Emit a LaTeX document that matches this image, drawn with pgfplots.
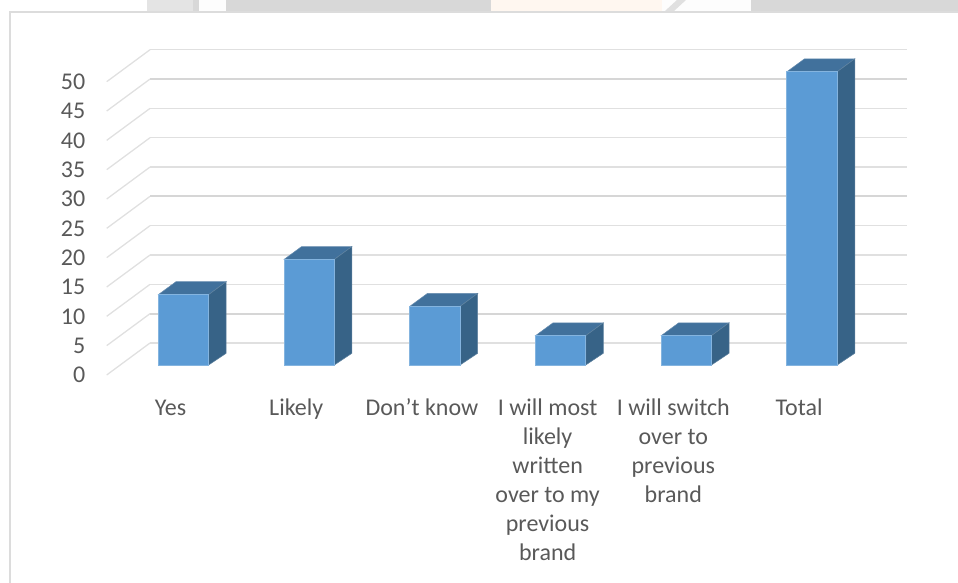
\documentclass[border=0pt]{standalone}
\usepackage{pgfplots}
\pgfplotsset{compat=1.18}
\usepackage{fontspec}
\setmainfont{Carlito}
\definecolor{labelgray}{HTML}{595959}
\definecolor{wall}{HTML}{E0E0E0}
\definecolor{wallthick}{HTML}{D6D6D6}
\definecolor{barfront}{HTML}{5B9BD5}
\definecolor{bartop}{HTML}{41719C}
\definecolor{barside}{HTML}{376387}
\definecolor{framegray}{HTML}{DCDCDC}
\definecolor{bandgray}{HTML}{D8D8D8}

\begin{document}
\begin{tikzpicture}
\useasboundingbox (0,0) rectangle (958pt,583pt);
% scrap of the page above the chart frame
\fill[bandgray] (147pt,572pt) rectangle (958pt,583pt);
\fill[bandgray!70!white] (147pt,572pt) rectangle (193pt,583pt);
\fill[white!96!bandgray] (199pt,572pt) rectangle (226pt,583pt);
\fill[orange!6!white] (491pt,572pt) rectangle (662pt,583pt);
\fill[white!96!bandgray] (662pt,572pt) rectangle (751pt,583pt);
\fill[bandgray!80!white] (665pt,572pt) -- (674pt,572pt) -- (686pt,583pt) -- (677pt,583pt) -- cycle;
\draw[framegray,line width=1.6pt] (958pt,571.2pt) -- (9.8pt,571.2pt) -- (9.8pt,0pt);

\begin{axis}[
    at={(106.7pt,218pt)}, anchor=south west,
    scale only axis, width=800pt, height=322.6pt,
    clip=false,
    xmin=-0.611, xmax=5.753,
    ymin=0, ymax=55,
    axis line style={draw=none},
    tick style={draw=none},
    xtick={0,1,2,3,4,5},
    xticklabels={Yes\strut,Likely\strut,Don’t know\strut,{I will most\strut\\likely\\written\\over to my\\previous\\brand},{I will switch\strut\\over to\\previous\\brand},Total\strut},
    ytick={0,5,...,50},
    /pgf/number format/assume math mode=true,
    tick label style={font=\fontsize{24}{29}\selectfont,text=labelgray},
    x tick label style={align=center,anchor=north,xshift=-13pt,yshift=-26.5pt},
    y tick label style={anchor=east,xshift=-18pt,yshift=-10pt},
]

% side wall lines
\addplot[wall,line width=1.3pt,forget plot,unbounded coords=jump] coordinates {
    (-0.611,-1.7)(-0.2665,3.75)(nan,nan)
    (-0.611,3.3)(-0.2665,8.75)(nan,nan)
    (-0.611,8.3)(-0.2665,13.75)(nan,nan)
    (-0.611,13.3)(-0.2665,18.75)(nan,nan)
    (-0.611,18.3)(-0.2665,23.75)(nan,nan)
    (-0.611,23.3)(-0.2665,28.75)(nan,nan)
    (-0.611,28.3)(-0.2665,33.75)(nan,nan)
    (-0.611,33.3)(-0.2665,38.75)(nan,nan)
    (-0.611,38.3)(-0.2665,43.75)(nan,nan)
    (-0.611,43.3)(-0.2665,48.75)(nan,nan)
    (-0.611,48.3)(-0.2665,53.75)
};
% back wall lines
\addplot[wall,line width=1.5pt,forget plot,unbounded coords=jump] coordinates {
    (-0.2665,3.75)(5.753,3.75)(nan,nan)
    (-0.2665,13.75)(5.753,13.75)(nan,nan)
    (-0.2665,18.75)(5.753,18.75)(nan,nan)
    (-0.2665,23.75)(5.753,23.75)(nan,nan)
    (-0.2665,33.75)(5.753,33.75)(nan,nan)
    (-0.2665,38.75)(5.753,38.75)(nan,nan)
    (-0.2665,43.75)(5.753,43.75)(nan,nan)
    (-0.2665,53.75)(5.753,53.75)
};
\addplot[wallthick,line width=2pt,forget plot,unbounded coords=jump] coordinates {
    (-0.2665,8.75)(5.753,8.75)(nan,nan)
    (-0.2665,28.75)(5.753,28.75)(nan,nan)
    (-0.2665,48.75)(5.753,48.75)
};

% top faces
\addplot[fill=bartop,draw=bartop!80!white,line width=0.5pt,forget plot] coordinates {(-0.2,12)(0.2,12)(0.34,14.2)(-0.06,14.2)} -- cycle;
\addplot[fill=bartop,draw=bartop!80!white,line width=0.5pt,forget plot] coordinates {(0.8,18)(1.2,18)(1.34,20.2)(0.94,20.2)} -- cycle;
\addplot[fill=bartop,draw=bartop!80!white,line width=0.5pt,forget plot] coordinates {(1.8,10)(2.2,10)(2.34,12.2)(1.94,12.2)} -- cycle;
\addplot[fill=bartop,draw=bartop!80!white,line width=0.5pt,forget plot] coordinates {(2.8,5)(3.2,5)(3.34,7.2)(2.94,7.2)} -- cycle;
\addplot[fill=bartop,draw=bartop!80!white,line width=0.5pt,forget plot] coordinates {(3.8,5)(4.2,5)(4.34,7.2)(3.94,7.2)} -- cycle;
\addplot[fill=bartop,draw=bartop!80!white,line width=0.5pt,forget plot] coordinates {(4.8,50)(5.2,50)(5.34,52.2)(4.94,52.2)} -- cycle;
% side faces
\addplot[fill=barside,draw=barside!80!white,line width=0.5pt,forget plot] coordinates {(0.2,0)(0.34,2)(0.34,14.2)(0.2,12)} -- cycle;
\addplot[fill=barside,draw=barside!80!white,line width=0.5pt,forget plot] coordinates {(1.2,0)(1.34,2)(1.34,20.2)(1.2,18)} -- cycle;
\addplot[fill=barside,draw=barside!80!white,line width=0.5pt,forget plot] coordinates {(2.2,0)(2.34,2)(2.34,12.2)(2.2,10)} -- cycle;
\addplot[fill=barside,draw=barside!80!white,line width=0.5pt,forget plot] coordinates {(3.2,0)(3.34,2)(3.34,7.2)(3.2,5)} -- cycle;
\addplot[fill=barside,draw=barside!80!white,line width=0.5pt,forget plot] coordinates {(4.2,0)(4.34,2)(4.34,7.2)(4.2,5)} -- cycle;
\addplot[fill=barside,draw=barside!80!white,line width=0.5pt,forget plot] coordinates {(5.2,0)(5.34,2)(5.34,52.2)(5.2,50)} -- cycle;
% front faces
\addplot[ybar,bar width=50.4pt,fill=barfront,draw=barfront!75!white,line width=0.7pt] coordinates {
    (0,12)(1,18)(2,10)(3,5)(4,5)(5,50)
};
\end{axis}
\end{tikzpicture}
\end{document}
